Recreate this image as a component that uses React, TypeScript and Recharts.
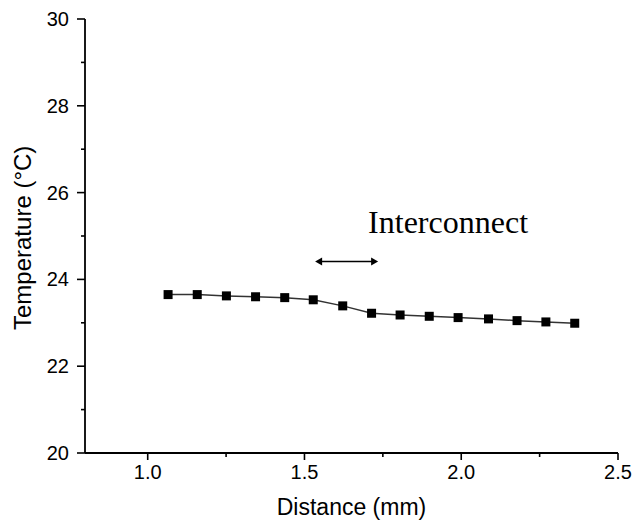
import {
  LineChart,
  Line,
  XAxis,
  YAxis,
  ReferenceLine,
  ReferenceDot,
} from 'recharts';

const DISTANCE = [1.065, 1.158, 1.251, 1.344, 1.437, 1.528, 1.622, 1.714, 1.805, 1.898, 1.99, 2.087, 2.178, 2.27, 2.362];
const TEMPERATURE = [23.65, 23.65, 23.62, 23.6, 23.58, 23.53, 23.39, 23.22, 23.18, 23.15, 23.12, 23.09, 23.05, 23.02, 22.99];

const X_TICKS = [1.0, 1.25, 1.5, 1.75, 2.0, 2.25, 2.5];
const X_LABELED = [1.0, 1.5, 2.0, 2.5];
const Y_TICKS = [20, 21, 22, 23, 24, 25, 26, 27, 28, 29, 30];
const Y_LABELED = [20, 22, 24, 26, 28, 30];

const ARROW_FROM = 1.534;
const ARROW_TO = 1.735;
const ARROW_Y = 24.41;
const NOTE_X = 1.703;
const NOTE_Y = 25.07;
const NOTE_TEXT = 'Interconnect';

const chartData = DISTANCE.map((d, i) => ({ distance: d, temp: TEMPERATURE[i] }));

const sans = 'Arial, "Liberation Sans", Helvetica, sans-serif';

function XTick({ x, y, payload }: any) {
  const major = X_LABELED.includes(payload.value);
  return (
    <g>
      <line x1={x} y1={y} x2={x} y2={y + (major ? 7 : 4)} stroke="#000" strokeWidth={1.6} />
      {major && (
        <text x={x} y={y + 26} textAnchor="middle" fontSize={20} fontFamily={sans} fill="#000">
          {payload.value.toFixed(1)}
        </text>
      )}
    </g>
  );
}

function YTick({ x, y, payload }: any) {
  const major = Y_LABELED.includes(payload.value);
  return (
    <g>
      <line x1={x} y1={y} x2={x - (major ? 8 : 4)} y2={y} stroke="#000" strokeWidth={1.6} />
      {major && (
        <text x={x - 16} y={y + 7} textAnchor="end" fontSize={20} fontFamily={sans} fill="#000">
          {payload.value}
        </text>
      )}
    </g>
  );
}

function SquareDot({ cx, cy }: any) {
  return <rect x={cx - 4.5} y={cy - 4.5} width={9} height={9} fill="#000" />;
}

function ArrowShape({ x1, y1, x2, y2 }: any) {
  const h = 7;
  const w = 4;
  return (
    <g>
      <line x1={x1 + 4} y1={y1} x2={x2 - 4} y2={y2} stroke="#000" strokeWidth={1.5} />
      <polygon points={`${x1},${y1} ${x1 + h},${y1 - w} ${x1 + h},${y1 + w}`} fill="#000" />
      <polygon points={`${x2},${y2} ${x2 - h},${y2 - w} ${x2 - h},${y2 + w}`} fill="#000" />
    </g>
  );
}

function NoteText({ cx, cy }: any) {
  return (
    <text x={cx} y={cy} fontSize={32} fontFamily='"Liberation Serif", "Times New Roman", serif' fill="#000">
      {NOTE_TEXT}
    </text>
  );
}

export default function App() {
  return (
    <div style={{ position: 'absolute', left: 0, top: 0, background: '#fff' }}>
      <LineChart
        width={632}
        height={521}
        data={chartData}
        margin={{ top: 19, right: 14, bottom: 0, left: 0 }}
      >
        <XAxis
          dataKey="distance"
          type="number"
          domain={[0.8, 2.5]}
          ticks={X_TICKS}
          interval={0}
          height={68}
          tickSize={0}
          tickMargin={0}
          tickLine={false}
          tick={<XTick />}
          axisLine={{ stroke: '#000', strokeWidth: 1.8 }}
          label={{
            value: 'Distance (mm)',
            position: 'insideBottom',
            offset: 6,
            fontSize: 23,
            fontFamily: sans,
            fill: '#000',
          }}
        />
        <YAxis
          type="number"
          domain={[20, 30]}
          ticks={Y_TICKS}
          interval={0}
          width={85}
          tickSize={0}
          tickMargin={0}
          tickLine={false}
          tick={<YTick />}
          axisLine={{ stroke: '#000', strokeWidth: 1.8 }}
          label={{
            value: 'Temperature (°C)',
            angle: -90,
            position: 'insideLeft',
            offset: 22,
            dy: 94,
            fontSize: 24,
            fontFamily: sans,
            fill: '#000',
          }}
        />
        <Line
          dataKey="temp"
          stroke="#333"
          strokeWidth={1.5}
          dot={<SquareDot />}
          activeDot={false}
          isAnimationActive={false}
        />
        <ReferenceLine
          segment={[
            { x: ARROW_FROM, y: ARROW_Y },
            { x: ARROW_TO, y: ARROW_Y },
          ]}
          shape={(p: any) => <ArrowShape {...p} />}
        />
        <ReferenceDot x={NOTE_X} y={NOTE_Y} r={0} shape={(p: any) => <NoteText {...p} />} />
      </LineChart>
    </div>
  );
}
